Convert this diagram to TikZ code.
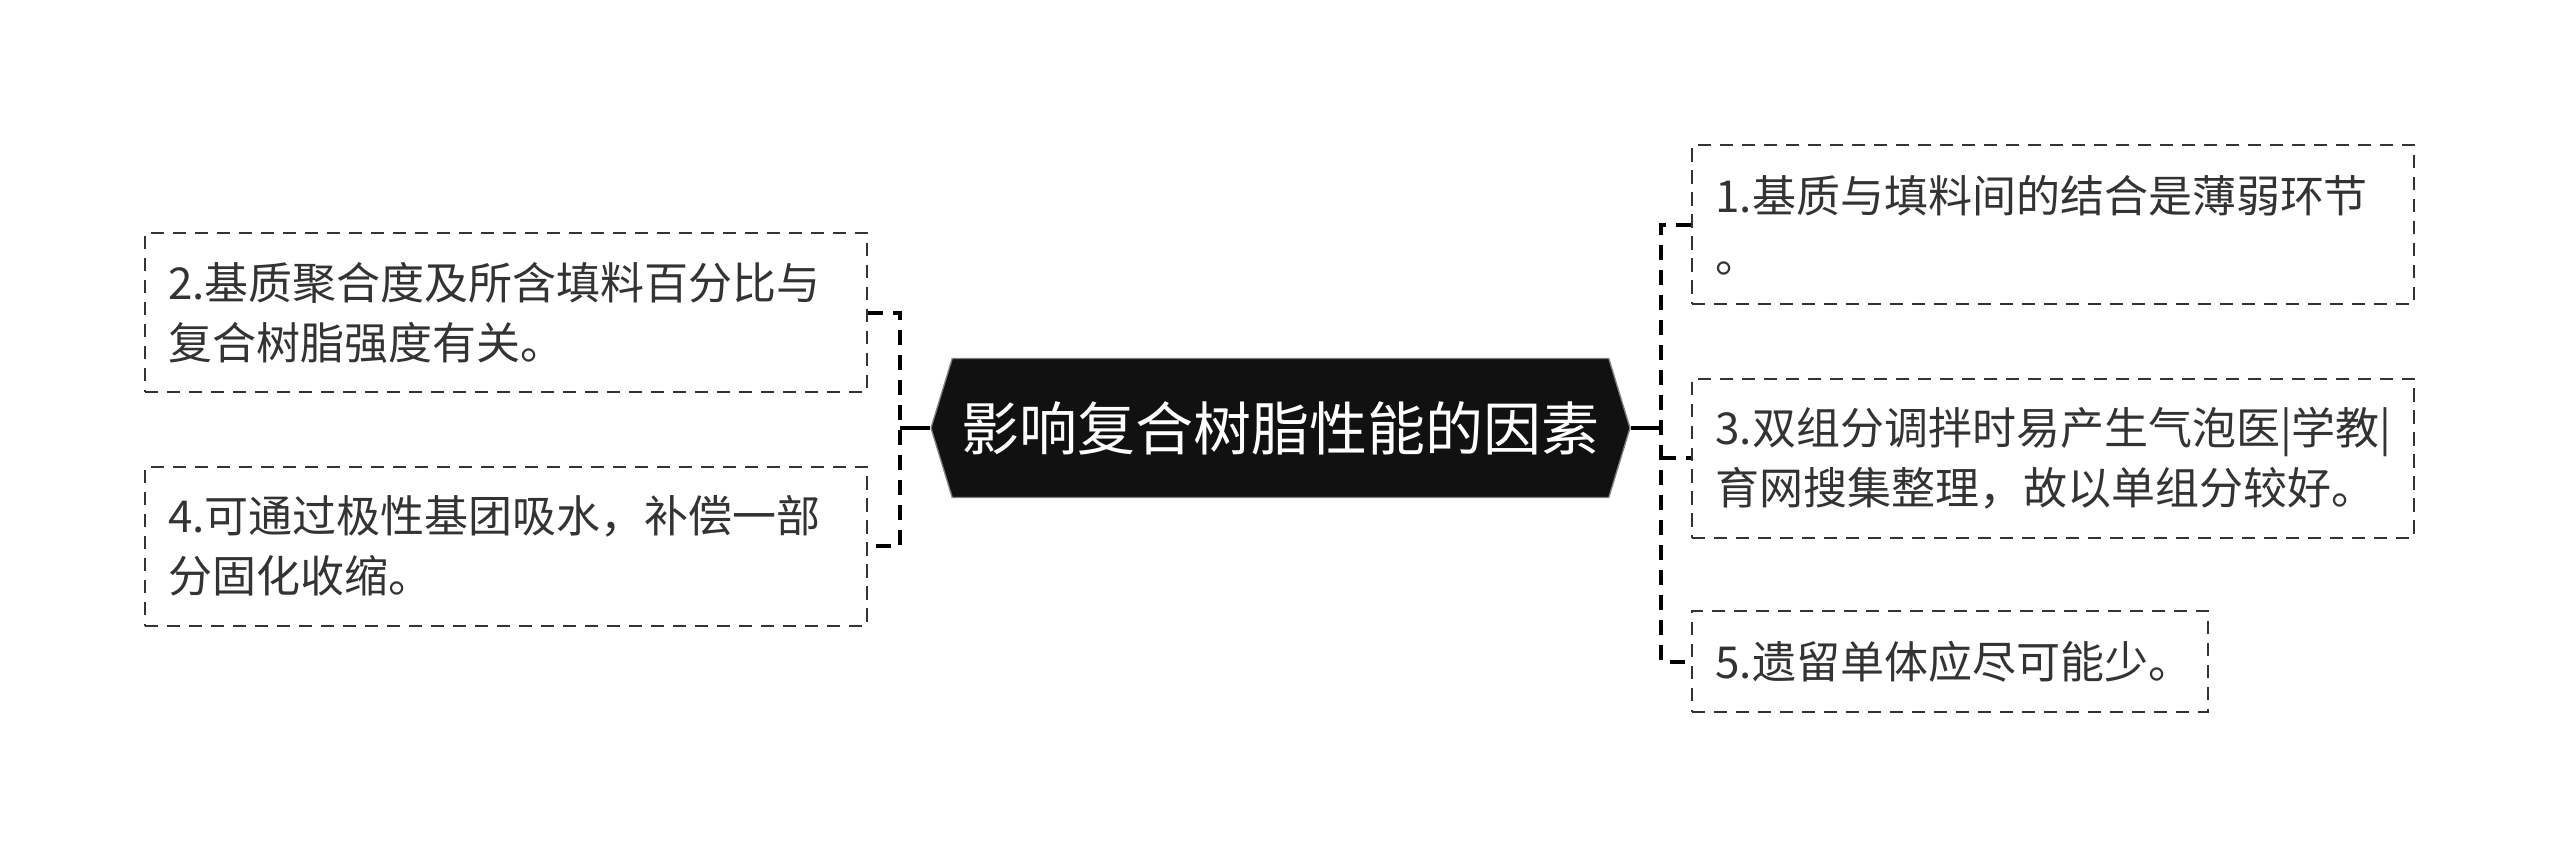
\documentclass[tikz,border=0pt]{standalone}
\usepackage{fontspec}
\setmainfont{Noto Sans CJK SC}
\usetikzlibrary{shapes.symbols}
\definecolor{inkgray}{HTML}{333333}
\definecolor{rootblack}{HTML}{111111}

\begin{document}
\begin{tikzpicture}[x=0.3pt, y=-0.3pt,
	leaf/.style={draw=inkgray, line width=0.6pt, dash pattern=on 4pt off 2.6pt,
		text=inkgray, font=\fontsize{13.2pt}{18pt}\selectfont, align=left,
		inner xsep=7pt, minimum height=47.7pt, minimum width=216.6pt, text width=202.6pt},
	root/.style={signal, signal to=west and east, signal pointer angle=146,
		fill=rootblack, draw=gray, line width=0.4pt, text=white,
		font=\fontsize{17.4pt}{20pt}\selectfont,
		minimum width=209.7pt, minimum height=41.7pt, inner xsep=2pt},
	link/.style={draw=black, line width=1.2pt},
	dashlink/.style={link, dash pattern=on 4.5pt off 3pt}]
	\useasboundingbox (0,0) rectangle (2560,858);

	% centre
	\node[root] (root) at (1280.5,428) {影响复合树脂性能的因素};

	% left side
	\node[leaf] (b2) at (506,312.5) {2.基质聚合度及所含填料百分比与\\复合树脂强度有关。};
	\node[leaf] (b4) at (506,546) {4.可通过极性基团吸水，补偿一部\\分固化收缩。};

	% right side
	\node[leaf] (b1) at (2053,225) {1.基质与填料间的结合是薄弱环节\\。};
	\node[leaf] (b3) at (2053,458) {3.双组分调拌时易产生气泡医|学教|\\育网搜集整理，故以单组分较好。};
	\node[leaf, minimum width=154.8pt, text width=140.8pt, minimum height=30.3pt] (b5) at (1950,661.5) {5.遗留单体应尽可能少。};

	\coordinate (lj) at (900,428);
	\coordinate (rj) at (1661,428);

	\draw[link] (root.west) -- (lj);
	\draw[dashlink] (b2.east) -- (b2.east -| lj) -- (b4.east -| lj) -- (b4.east);

	\draw[link] (root.east) -- (rj);
	\draw[dashlink] (b1.west) -- (b1.west -| rj) -- (b5.west -| rj) -- (b5.west);
	\draw[dashlink] (rj |- b3.west) -- (b3.west);
\end{tikzpicture}
\end{document}
